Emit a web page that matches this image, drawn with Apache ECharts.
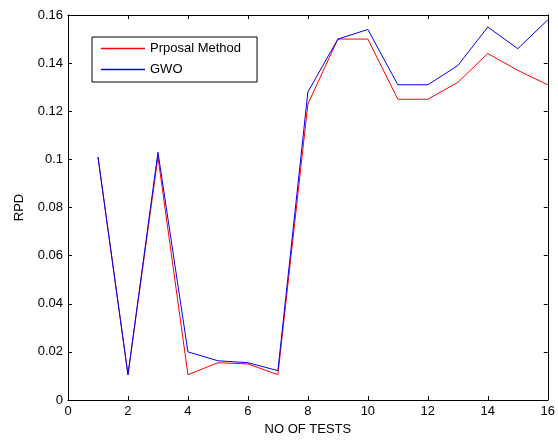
<!DOCTYPE html>
<html>
<head>
<meta charset="utf-8">
<script src="https://cdn.jsdelivr.net/npm/echarts@6/dist/echarts.min.js"></script>
<style>
  html, body { margin: 0; padding: 0; background: #fff; }
  #chart { width: 558px; height: 441px; }
</style>
</head>
<body>
<div id="chart"></div>
<script>
// test numbers 1..16
const tests = [1, 2, 3, 4, 5, 6, 7, 8, 9, 10, 11, 12, 13, 14, 15, 16]

// RPD values
const proposal = [0.101, 0.0105, 0.101, 0.0105, 0.0155, 0.015, 0.0105, 0.123, 0.150, 0.150, 0.125, 0.125, 0.132, 0.144, 0.137, 0.131]
const gwo = [0.101, 0.0105, 0.103, 0.020, 0.0163, 0.0155, 0.0122, 0.128, 0.150, 0.154, 0.131, 0.131, 0.139, 0.155, 0.146, 0.158]

const seriesNames = ['Prposal Method', 'GWO']
const seriesColors = ['#ff0000', '#0000ff']

const font = 'Liberation Sans, Arial, sans-serif'

const pairs = vals => tests.map((t, i) => [t, vals[i]])

const fmtY = v => String(parseFloat(v.toFixed(2)))

// thin line used as legend marker
const lineIcon = 'path://M0,0 L44,0 L44,1.5 L0,1.5 Z'

const myChart = echarts.init(document.getElementById('chart'))

const axisCommon = {
    axisLine: { onZero: false, lineStyle: { color: '#000', width: 1 } },
    axisTick: { inside: true, length: 4, lineStyle: { color: '#000' } },
    splitLine: { show: false },
}

const option = {
    animation: false,
    backgroundColor: '#fff',
    grid: { left: 68, right: 6, top: 15, bottom: 41 },
    legend: {
        data: seriesNames.map((n, i) => ({ name: n, icon: lineIcon, itemStyle: { color: seriesColors[i] } })),
        orient: 'vertical',
        left: 92,
        top: 37,
        itemWidth: 44,
        itemHeight: 14,
        itemGap: 8,
        padding: [5, 16, 6, 9],
        borderColor: '#000',
        borderWidth: 1,
        backgroundColor: '#fff',
        textStyle: { fontFamily: font, fontSize: 13, color: '#000' },
    },
    xAxis: [{
        ...axisCommon,
        type: 'value',
        min: 0,
        max: 16,
        interval: 2,
        name: 'NO OF TESTS',
        nameLocation: 'middle',
        nameGap: 22,
        nameTextStyle: { fontFamily: font, fontSize: 13, color: '#000' },
        axisLabel: { fontFamily: font, fontSize: 13, color: '#000', margin: 5 },
    }, {
        ...axisCommon,
        type: 'value',
        position: 'top',
        min: 0,
        max: 16,
        interval: 2,
        axisLabel: { show: false },
    }],
    yAxis: [{
        ...axisCommon,
        type: 'value',
        min: 0,
        max: 0.16,
        interval: 0.02,
        name: 'RPD',
        nameLocation: 'middle',
        nameGap: 42,
        nameTextStyle: { fontFamily: font, fontSize: 13, color: '#000' },
        axisLabel: { fontFamily: font, fontSize: 13, color: '#000', margin: 5, formatter: fmtY },
    }, {
        ...axisCommon,
        type: 'value',
        position: 'right',
        min: 0,
        max: 0.16,
        interval: 0.02,
        axisLabel: { show: false },
    }],
    series: seriesNames.map((n, i) => ({
        name: n,
        type: 'line',
        symbol: 'none',
        color: seriesColors[i],
        lineStyle: { color: seriesColors[i], width: 1 },
        data: pairs(i === 0 ? proposal : gwo),
    })),
}

myChart.setOption(option)
</script>
</body>
</html>
